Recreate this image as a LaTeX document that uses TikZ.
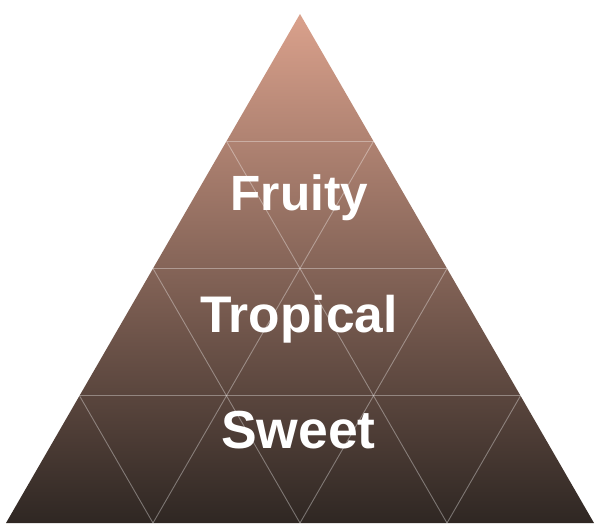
\documentclass[tikz,border=0pt]{standalone}
\usepackage{fontspec}
\setmainfont{Liberation Sans}
\usetikzlibrary{calc}
\definecolor{pyrtop}{RGB}{218,161,140}
\definecolor{pyrbot}{RGB}{47,39,35}
\tikzset{
  gridline/.style={draw=white, draw opacity=0.35, line width=0.9pt},
  pyrlabel/.style={text=white, anchor=base, inner sep=0pt, font=\bfseries}
}
\begin{document}
\begin{tikzpicture}[x=1pt,y=-1pt]
\useasboundingbox (0,0) rectangle (600,525);
\coordinate (A) at (300,14);
\coordinate (B) at (6,523);
\coordinate (C) at (594,523);
\shade[top color=pyrtop, bottom color=pyrbot, shading angle=0] (A) -- (B) -- (C) -- cycle;
\foreach \k in {1,2,3} {
  \draw[gridline] ($(A)!\k/4!(B)$) -- ($(A)!\k/4!(C)$);
  \draw[gridline] ($(B)!\k/4!(C)$) -- ($(A)!\k/4!(C)$);
  \draw[gridline] ($(B)!\k/4!(C)$) -- ($(A)!{1-\k/4}!(B)$);
}
\node[pyrlabel, font=\fontsize{49.5}{49.5}\selectfont\bfseries] (fruity) at (299.5,210) {Fruity};
\node[pyrlabel, font=\fontsize{51.5}{51.5}\selectfont\bfseries] (tropical) at (299,332) {Tropical};
\node[pyrlabel, font=\fontsize{53.5}{53.5}\selectfont\bfseries] (sweet) at (298.5,448) {Sweet};
\end{tikzpicture}
\end{document}
